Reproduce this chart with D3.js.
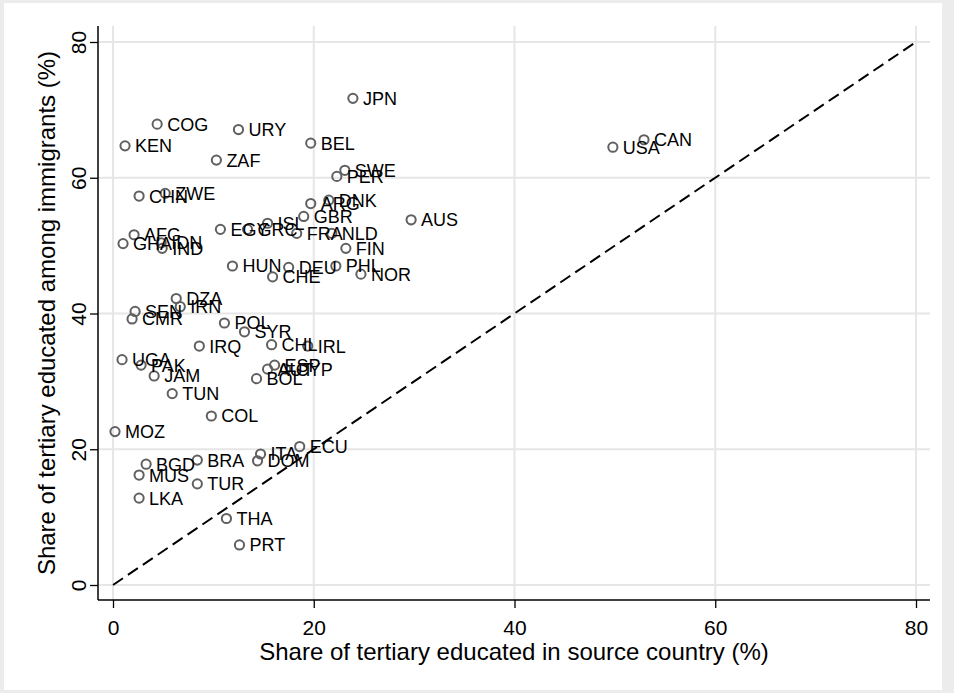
<!DOCTYPE html>
<html>
<head>
<meta charset="utf-8">
<script src="https://cdn.jsdelivr.net/npm/d3@7"></script>
<style>
  body { margin: 0; background: #fff; }
  svg { display: block; }
  text { font-family: "Liberation Sans", Arial, Helvetica, sans-serif; }
</style>
</head>
<body>
<svg id="chart" width="954" height="693"></svg>
<script>
// Country codes and the two tertiary-education shares (%)
const countries = ["JPN","COG","URY","BEL","KEN","ZAF","CAN","USA","SWE","PER",
  "CHN","ZWE","ARG","DNK","GBR","AUS","FRA","NLD","FIN","DEU",
  "PHL","CHE","NOR","HUN","EGY","GRC","ISL","AFG","GHA","IDN",
  "IND","DZA","IRN","SEN","CMR","POL","SYR","IRQ","CHL","IRL",
  "UGA","PAK","JAM","ESP","AUT","CYP","BOL","TUN","COL","MOZ",
  "ECU","ITA","DOM","BRA","BGD","MUS","TUR","LKA","THA","PRT"];
const sourceShare = [23.9, 4.4, 12.5, 19.7, 1.2, 10.3, 52.9, 49.8, 23.1, 22.3,
  2.6, 5.2, 19.7, 21.5, 19.0, 29.7, 18.3, 21.8, 23.2, 17.5,
  22.2, 15.9, 24.7, 11.9, 10.7, 13.4, 15.4, 2.1, 1.0, 4.8,
  4.9, 6.3, 6.7, 2.2, 1.9, 11.1, 13.1, 8.6, 15.8, 19.4,
  0.9, 2.8, 4.1, 16.1, 15.4, 17.2, 14.3, 5.9, 9.8, 0.2,
  18.6, 14.7, 14.4, 8.4, 3.3, 2.6, 8.4, 2.6, 11.3, 12.6];
const immigrantShare = [71.7, 67.9, 67.1, 65.1, 64.7, 62.6, 65.6, 64.5, 61.1, 60.2,
  57.3, 57.7, 56.2, 56.7, 54.3, 53.8, 51.8, 51.8, 49.6, 46.8,
  47.0, 45.4, 45.8, 47.0, 52.4, 52.4, 53.3, 51.6, 50.3, 50.4,
  49.6, 42.2, 41.0, 40.3, 39.2, 38.6, 37.3, 35.2, 35.4, 35.2,
  33.2, 32.4, 30.8, 32.4, 31.8, 31.8, 30.4, 28.2, 24.9, 22.6,
  20.4, 19.3, 18.3, 18.4, 17.8, 16.2, 14.9, 12.8, 9.8, 5.9];
const xTicks = [0, 20, 40, 60, 80];
const yTicks = [0, 20, 40, 60, 80];
const equalityLine = [0, 80];
const xTitle = "Share of tertiary educated in source country (%)";
const yTitle = "Share of tertiary educated among immigrants (%)";

const W = 954, H = 693;
const svg = d3.select("#chart");

// graph region: light frame with white interior
svg.append("rect").attr("width", W).attr("height", H).attr("fill", "#ececec");
svg.append("rect").attr("x", 4).attr("y", 3).attr("width", 938).attr("height", 687).attr("fill", "#fff");

const plot = { left: 98, right: 930, top: 26, bottom: 600 };
const x = d3.scaleLinear().domain([0, 80]).range([113, 916]);
const y = d3.scaleLinear().domain([0, 80]).range([585, 42]);

// grid lines
const grid = svg.append("g").attr("stroke", "#e6e6e6").attr("stroke-width", 2);
grid.selectAll(".gx").data(xTicks).join("line")
  .attr("x1", d => x(d)).attr("x2", d => x(d))
  .attr("y1", plot.top).attr("y2", plot.bottom);
grid.selectAll(".gy").data(yTicks).join("line")
  .attr("x1", plot.left).attr("x2", plot.right)
  .attr("y1", d => y(d)).attr("y2", d => y(d));

// 45-degree reference line
svg.append("line")
  .attr("x1", x(equalityLine[0])).attr("y1", y(equalityLine[0]))
  .attr("x2", x(equalityLine[1])).attr("y2", y(equalityLine[1]))
  .attr("stroke", "#000").attr("stroke-width", 2)
  .attr("stroke-dasharray", "12,6");

// axes
const xAxis = svg.append("g")
  .attr("transform", `translate(0,${plot.bottom})`)
  .call(d3.axisBottom(x).tickValues(xTicks).tickSize(8).tickPadding(12).tickFormat(d3.format("d")));
xAxis.select(".domain").remove();
xAxis.append("line").attr("x1", plot.left).attr("x2", plot.right)
  .attr("stroke", "#000").attr("stroke-width", 1.5);
xAxis.selectAll(".tick line").attr("stroke", "#000").attr("stroke-width", 1.3);
xAxis.selectAll(".tick text").attr("fill", "#000").attr("font-size", 21)
  .attr("font-family", "'Liberation Sans', Arial, sans-serif");

const yAxis = svg.append("g")
  .attr("transform", `translate(${plot.left},0)`)
  .call(d3.axisLeft(y).tickValues(yTicks).tickSize(8).tickFormat(d3.format("d")));
yAxis.select(".domain").remove();
yAxis.append("line").attr("y1", plot.top).attr("y2", plot.bottom)
  .attr("stroke", "#000").attr("stroke-width", 1.5);
yAxis.selectAll(".tick line").attr("stroke", "#000").attr("stroke-width", 1.3);
yAxis.selectAll(".tick text")
  .attr("x", null).attr("dy", null).attr("text-anchor", "middle")
  .attr("transform", "translate(-12,0) rotate(-90)")
  .attr("fill", "#000").attr("font-size", 21)
  .attr("font-family", "'Liberation Sans', Arial, sans-serif");

// axis titles
svg.append("text").attr("x", (plot.left + plot.right) / 2).attr("y", 660)
  .attr("text-anchor", "middle").attr("font-size", 24).attr("fill", "#000")
  .text(xTitle);
svg.append("text")
  .attr("transform", `translate(55,${(plot.top + plot.bottom) / 2}) rotate(-90)`)
  .attr("text-anchor", "middle").attr("font-size", 24).attr("fill", "#000")
  .text(yTitle);

// scatter points with country labels
const data = countries.map((c, i) => ({ c, sx: sourceShare[i], iy: immigrantShare[i] }));
const pts = svg.append("g");
pts.selectAll("circle").data(data).join("circle")
  .attr("cx", d => x(d.sx)).attr("cy", d => y(d.iy)).attr("r", 4.6)
  .attr("fill", "none").attr("stroke", "#606060").attr("stroke-width", 2);
pts.selectAll("text").data(data).join("text")
  .attr("x", d => x(d.sx) + 10).attr("y", d => y(d.iy))
  .attr("dy", "0.36em").attr("font-size", 18).attr("fill", "#000")
  .text(d => d.c);
</script>
</body>
</html>
